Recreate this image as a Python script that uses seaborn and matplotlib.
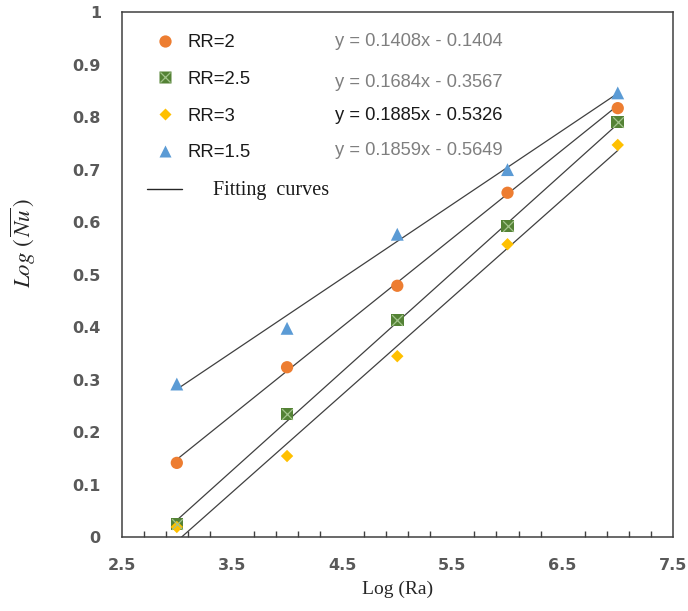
import numpy as np
import pandas as pd
import matplotlib
matplotlib.use("Agg")
import matplotlib.pyplot as plt
from matplotlib.lines import Line2D
from matplotlib.ticker import FixedLocator
import seaborn as sns

# Measured points: log(Ra) vs log(mean Nu) for each radius ratio
log_ra = [3, 4, 5, 6, 7]
series_names = ["RR=2", "RR=2.5", "RR=3", "RR=1.5"]
log_nu_rr2 = [0.142, 0.324, 0.479, 0.656, 0.817]
log_nu_rr25 = [0.026, 0.235, 0.414, 0.593, 0.791]
log_nu_rr3 = [0.020, 0.155, 0.345, 0.558, 0.747]
log_nu_rr15 = [0.292, 0.398, 0.577, 0.700, 0.846]

# Linear fits (listed top to bottom as annotated): RR=1.5, RR=2, RR=2.5, RR=3
fit_slopes = [0.1408, 0.1684, 0.1885, 0.1859]
fit_intercepts = [-0.1404, -0.3567, -0.5326, -0.5649]

x_ticks = [2.5, 3.5, 4.5, 5.5, 6.5, 7.5]
y_ticks = [0, 0.1, 0.2, 0.3, 0.4, 0.5, 0.6, 0.7, 0.8, 0.9, 1]

sns.set_style("white")
plt.rcParams["mathtext.fontset"] = "stix"

palette = {"RR=2": "#ED7D31", "RR=2.5": "#548235", "RR=3": "#FFC000", "RR=1.5": "#5B9BD5"}
markers = {"RR=2": "o", "RR=2.5": "s", "RR=3": "D", "RR=1.5": "^"}
sizes = {"RR=2": 78, "RR=2.5": 82, "RR=3": 40, "RR=1.5": 86}

values = [log_nu_rr2, log_nu_rr25, log_nu_rr3, log_nu_rr15]
df = pd.DataFrame({
    "log_ra": np.tile(log_ra, len(series_names)),
    "log_nu": np.concatenate(values),
    "series": np.repeat(series_names, len(log_ra)),
})

fig = plt.figure(figsize=(6.88, 6.11), dpi=100)
ax = fig.add_axes([0.1769, 0.1203, 0.978 - 0.1769, 0.9804 - 0.1203])

# Fitted straight lines over the measured Ra range
fit_rows = []
for i, (m, b) in enumerate(zip(fit_slopes, fit_intercepts)):
    for xv in (log_ra[0], log_ra[-1]):
        fit_rows.append({"fit": i, "log_ra": xv, "log_nu": m * xv + b})
fit_df = pd.DataFrame(fit_rows)
sns.lineplot(data=fit_df, x="log_ra", y="log_nu", units="fit", estimator=None,
             color="#404040", linewidth=0.9, ax=ax, legend=False, zorder=2)

# Data markers
for name in series_names:
    sub = df[df["series"] == name]
    sns.scatterplot(data=sub, x="log_ra", y="log_nu", marker=markers[name],
                    color=palette[name], s=sizes[name], edgecolor="none",
                    ax=ax, legend=False, zorder=3)
    if name == "RR=2.5":
        sns.scatterplot(data=sub, x="log_ra", y="log_nu", marker="x",
                        color="#A3C48C", s=60, linewidth=0.9,
                        ax=ax, legend=False, zorder=4)

ax.set_xlim(2.5, 7.5)
ax.set_ylim(0, 1)
ax.xaxis.set_major_locator(FixedLocator(x_ticks))
ax.set_xticks(np.arange(2.7, 7.5, 0.2), minor=True)
ax.yaxis.set_major_locator(FixedLocator(y_ticks))
ax.set_xticklabels([f"{t:g}" for t in x_ticks])
ax.set_yticklabels([f"{t:g}" for t in y_ticks])

ax.tick_params(axis="both", which="major", direction="in", length=6, width=1,
               color="#404040", labelsize=11.5, labelcolor="#595959")
ax.tick_params(axis="x", which="major", pad=15)
ax.tick_params(axis="y", which="major", pad=15)
ax.tick_params(axis="x", which="minor", direction="in", length=4, width=1,
               color="#404040", bottom=True)
for lab in ax.get_xticklabels() + ax.get_yticklabels():
    lab.set_fontweight("bold")
for sp in ax.spines.values():
    sp.set_visible(True)
    sp.set_color("#404040")
    sp.set_linewidth(1.1)

ax.set_xlabel("Log (Ra)", fontsize=14, family="Liberation Serif", color="#262626", labelpad=5)
ax.set_ylabel(r"$Log\ (\,\overline{Nu}\,)$", fontsize=16.5, color="#262626")
ax.yaxis.set_label_coords(-0.151, 0.56)

# Fit equations
eq_colors = ["#7F7F7F", "#7F7F7F", "#1A1A1A", "#7F7F7F"]
eq_y = [0.943, 0.865, 0.803, 0.737]
for m, b, c, yy in zip(fit_slopes, fit_intercepts, eq_colors, eq_y):
    ax.text(4.434, yy, f"y = {m:.4f}x - {abs(b):.4f}", fontsize=13.2,
            family="Liberation Sans", color=c, va="center", ha="left")

# Legend
handles = []
for name in series_names:
    h = Line2D([], [], linestyle="none", marker=markers[name], color=palette[name],
               markeredgecolor="none", markersize=np.sqrt(sizes[name]))
    if name == "RR=2.5":
        hx = Line2D([], [], linestyle="none", marker="x", color="#A3C48C",
                    markersize=np.sqrt(60), markeredgewidth=0.9)
        h = (h, hx)
    handles.append(h)
handles.append(Line2D([], [], color="#262626", linewidth=1.0))
labels = series_names + ["     Fitting  curves"]
leg = ax.legend(handles, labels, loc="upper left", bbox_to_anchor=(0.046, 0.958),
                frameon=False, handlelength=1.9, handletextpad=0.3,
                labelspacing=1.07, borderpad=0, borderaxespad=0,
                prop={"family": "Liberation Sans", "size": 13.3})
for t in leg.get_texts():
    t.set_color("#1A1A1A")
ft = leg.get_texts()[-1]
ft.set_fontfamily("Liberation Serif")
ft.set_fontsize(14.5)

fig.savefig("out.png", dpi=100)
